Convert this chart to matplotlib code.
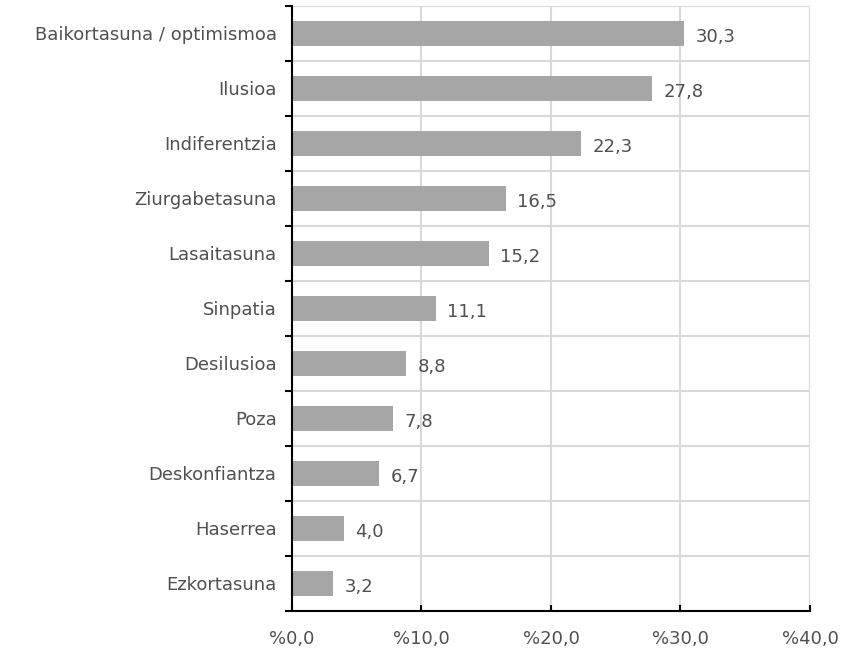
import numpy as np
import matplotlib
matplotlib.use("Agg")
import matplotlib.pyplot as plt

# Datos del gráfico
categorias = ["Baikortasuna / optimismoa", "Ilusioa", "Indiferentzia", "Ziurgabetasuna",
              "Lasaitasuna", "Sinpatia", "Desilusioa", "Poza", "Deskonfiantza",
              "Haserrea", "Ezkortasuna"]
valores = [30.3, 27.8, 22.3, 16.5, 15.2, 11.1, 8.8, 7.8, 6.7, 4.0, 3.2]
ticks_x = [0, 10, 20, 30, 40]

plt.rcParams['font.family'] = ['DejaVu Sans']
texto = '#505050'
tam = 13

fig = plt.figure(figsize=(8.61, 6.52), dpi=100)
ax = fig.add_axes([0.339, 0.0629, 0.6018, 0.9279])

y = np.arange(len(categorias))
ax.barh(y, valores, height=0.45, color='#a6a6a6', zorder=3)

# Etiquetas de valor a la derecha de cada barra
for yi, v in zip(y, valores):
    ax.text(v + 0.9, yi + 0.06, f"{v:.1f}".replace('.', ','), va='center', ha='left',
            fontsize=tam, color=texto)

ax.set_xlim(0, 40)
ax.set_ylim(len(categorias) - 0.5, -0.5)
ax.set_xticks(ticks_x)
ax.set_xticklabels([f"%{t:.1f}".replace('.', ',') for t in ticks_x], fontsize=tam, color=texto)
ax.set_yticks(y)
ax.set_yticklabels(categorias, fontsize=tam, color=texto)
ax.set_yticks(np.arange(-0.5, len(categorias)), minor=True)

ax.tick_params(axis='y', which='major', length=0, pad=11)
ax.tick_params(axis='y', which='minor', length=5, width=1.5, direction='out')
ax.tick_params(axis='x', length=4, width=1.5, direction='in', pad=14)

ax.grid(axis='x', color='#d9d9d9', linewidth=1.5, zorder=0)
ax.grid(axis='y', which='minor', color='#d9d9d9', linewidth=1.5, zorder=0)

for lado in ['top', 'right']:
    ax.spines[lado].set_visible(False)
for lado in ['left', 'bottom']:
    ax.spines[lado].set_linewidth(1.5)
    ax.spines[lado].set_zorder(4)

fig.savefig("out.png", dpi=100)
